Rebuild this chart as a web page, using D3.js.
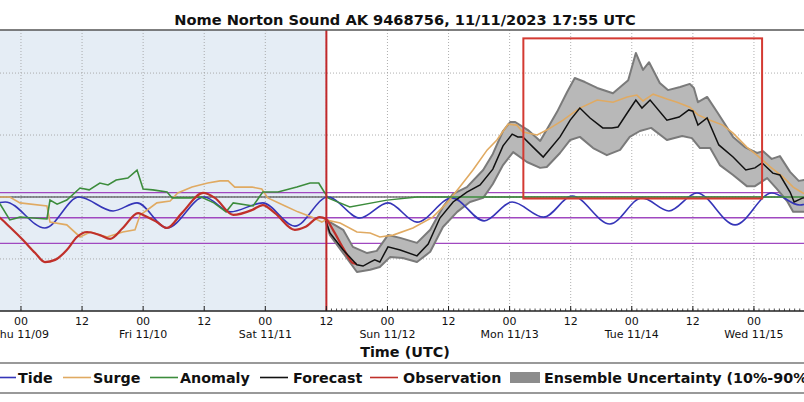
<!DOCTYPE html>
<html><head><meta charset="utf-8">
<script src="https://cdn.jsdelivr.net/npm/d3@7"></script>
<style>body{margin:0;background:#fff}svg{display:block}text{font-family:"DejaVu Sans",sans-serif}</style>
</head><body><svg id="c" width="804" height="402"></svg>
<script>
const title = "Nome Norton Sound AK 9468756, 11/11/2023 17:55 UTC";
const xTitle = "Time (UTC)";
// time in hours since 2023-11-09 00:00 UTC, level in ft
const tide = [[-6.1,-0.26],[-3.1,-0.16],[4.7,-1.0],[11.4,0.0],[18.1,-0.45],[22.8,-0.19],[28.7,-1.0],[36.0,0.0],[41.1,-0.48],[47.5,-0.19],[53.8,-0.94],[60.3,0.0],[66.6,-0.68],[72.1,-0.19],[77.8,-0.81],[84.7,-0.03],[91.0,-0.77],[96.5,-0.16],[102.7,-0.65],[108.3,0.03],[115.7,-0.87],[122.0,-0.03],[127.3,-0.45],[132.8,0.13],[140.3,-0.9],[147.5,0.13],[153.0,-0.26],[157.0,0.03]];
const observation = [[-6.1,-0.48],[-4.1,-0.68],[-2.2,-0.97],[0.4,-1.39],[2.8,-1.81],[4.7,-2.10],[6.7,-2.03],[9.0,-1.71],[11.0,-1.29],[13.0,-1.13],[15.5,-1.23],[17.5,-1.35],[20.0,-1.0],[23.0,-0.52],[24.0,-0.58],[26.7,-0.81],[28.7,-1.0],[31.6,-0.52],[35.8,0.13],[38.1,-0.03],[41.7,-0.58],[45.4,-0.42],[47.5,-0.26],[49.9,-0.52],[53.8,-1.06],[55.8,-0.97],[58.7,-0.65],[59.9,-0.71],[61.3,-1.06],[63.3,-1.65],[65.2,-2.13],[65.9,-2.16]];
const surge = [[-6.1,0.0],[-2.2,0.0],[-0.2,-0.19],[5.1,-0.29],[5.7,-0.81],[9.0,-0.9],[11.6,-1.29],[13.6,-1.13],[16.9,-1.29],[20.0,-1.13],[22.4,-1.06],[23.4,-0.58],[24.8,-0.42],[26.7,-0.19],[29.3,-0.13],[30.8,0.13],[33.6,0.32],[36.7,0.45],[39.1,0.52],[40.7,0.52],[42.0,0.32],[45.4,0.32],[47.3,0.26],[48.5,-0.03],[51.9,-0.29],[54.4,-0.48],[57.2,-0.65],[59.1,-0.81],[59.9,-0.74],[62.7,-0.84],[66.0,-1.13],[68.6,-1.16],[70.5,-1.29],[73.1,-1.23],[77.0,-1.0],[80.9,-0.65],[83.7,-0.19],[86.2,0.32],[88.8,0.87],[91.6,1.52],[93.5,1.84],[95.7,2.35],[97.4,2.32],[98.6,2.10],[101.4,2.0],[103.3,2.16],[106.5,2.48],[108.4,2.71],[109.8,2.87],[113.2,3.13],[116.3,3.06],[119.1,3.23],[121.0,3.29],[122.2,3.10],[124.2,3.32],[126.9,3.16],[128.9,3.06],[131.4,2.90],[133.0,2.65],[135.4,2.48],[137.9,2.32],[139.9,2.06],[142.6,1.61],[144.6,1.35],[147.2,0.97],[149.7,0.65],[151.7,0.32],[153.6,0.13],[156.0,-0.03]];
const anomalyObs = [[-6.1,-0.03],[-4.1,-0.23],[-2.2,-0.74],[-0.2,-0.65],[2.4,-0.68],[5.1,-0.71],[5.7,-0.10],[7.1,-0.23],[9.0,-0.10],[11.6,0.29],[13.4,0.23],[15.5,0.45],[17.1,0.39],[18.7,0.55],[21.0,0.61],[22.8,0.87],[24.0,0.26],[25.9,0.23],[28.7,0.16],[29.7,-0.03],[33.2,-0.03],[35.4,0.0],[37.9,-0.19],[40.3,-0.48],[41.7,-0.19],[45.6,-0.29],[47.5,0.16],[50.5,0.16],[54.2,0.32],[56.8,0.45],[58.5,0.45],[59.7,0.13]];
const anomalyFcst = [[59.7,0.13],[60.3,-0.03],[64.6,-0.32],[71.9,-0.10],[77.8,0.0],[159,0.0]];
const forecast = [[59.9,-0.77],[60.7,-1.16],[63.3,-1.71],[66.0,-2.19],[67.2,-2.23],[68.6,-2.10],[69.5,-2.03],[70.5,-2.10],[72.1,-1.61],[74.5,-1.71],[77.8,-1.90],[80.0,-1.52],[82.3,-0.68],[84.9,-0.16],[87.6,0.16],[90.2,0.39],[92.7,0.90],[94.7,1.65],[96.5,2.03],[97.6,1.94],[98.6,1.94],[100.6,1.61],[102.6,1.29],[105.9,1.94],[107.9,2.48],[109.8,2.87],[111.8,2.55],[114.3,2.23],[116.1,2.23],[117.3,2.26],[119.1,2.71],[120.8,3.13],[122.0,2.87],[123.6,3.13],[126.9,2.48],[129.3,2.58],[131.2,2.81],[132.0,2.77],[133.0,2.32],[134.8,2.55],[137.1,1.68],[139.9,1.29],[142.4,0.87],[144.2,0.94],[145.6,1.10],[147.7,0.77],[149.1,0.71],[151.1,0.16],[151.9,-0.16],[153.6,-0.03],[156.0,0.03]];
const ensUpper = [[59.9,-0.71],[60.7,-0.81],[63.3,-1.06],[65.2,-1.61],[68.0,-1.81],[69.9,-1.74],[72.1,-1.23],[74.5,-1.32],[77.8,-1.48],[80.4,-1.06],[82.9,-0.32],[84.9,0.10],[87.6,0.32],[90.8,0.87],[92.7,1.39],[94.7,2.13],[96.1,2.42],[97.1,2.42],[99.6,2.16],[102.0,1.81],[105.3,2.74],[107.3,3.39],[108.8,3.84],[110.8,3.71],[113.2,3.52],[116.3,3.35],[119.3,3.77],[120.8,4.65],[122.2,4.10],[123.4,4.35],[125.5,3.68],[127.1,3.45],[129.5,3.55],[131.4,3.65],[132.2,3.52],[133.0,3.06],[134.8,3.23],[136.9,2.71],[139.9,1.94],[142.2,1.61],[144.6,1.42],[145.8,1.48],[147.5,1.23],[149.1,1.32],[151.1,0.81],[152.8,0.52],[154.0,0.55],[156.0,0.35]];
const ensLower = [[59.9,-0.81],[60.7,-1.23],[63.3,-1.81],[66.0,-2.42],[68.6,-2.35],[70.5,-2.26],[72.5,-1.94],[75.0,-1.97],[77.8,-2.10],[80.4,-1.77],[82.9,-0.97],[85.7,-0.48],[88.2,-0.16],[90.8,-0.03],[92.7,0.42],[94.7,1.03],[96.7,1.45],[99.4,1.13],[102.0,0.94],[103.3,0.97],[105.9,1.42],[107.9,1.84],[109.8,1.94],[112.4,1.58],[115.1,1.35],[117.7,1.52],[119.6,1.94],[121.6,2.13],[123.8,2.23],[126.9,1.84],[129.9,1.97],[131.8,1.90],[133.4,1.58],[135.4,1.58],[137.3,1.03],[139.9,0.71],[142.6,0.35],[144.2,0.35],[146.6,0.61],[148.5,0.26],[150.5,-0.13],[151.7,-0.48],[153.6,-0.48],[156.0,-0.42]];
const thresholds = [0.14, -0.67, -1.50];
const forecastStart = 60;          // 11/11 12Z
const boxTimes = [98.7, 145.6];
const boxLevels = [-0.05, 5.12];
const tickTimes = [0,12,24,36,48,60,72,84,96,108,120,132,144];
const hourLabels = ["00","12","00","12","00","12","00","12","00","12","00","12","00"];
const dayLabels = ["Thu 11/09","","Fri 11/10","","Sat 11/11","","Sun 11/12","","Mon 11/13","","Tue 11/14","","Wed 11/15"];
const gridLevels = [-2,0,2,4];
const legendItems = [
  {label:"Tide", color:"#3535b8", kind:"line"},
  {label:"Surge", color:"#e0aa62", kind:"line"},
  {label:"Anomaly", color:"#3c8c3c", kind:"line"},
  {label:"Forecast", color:"#111", kind:"line"},
  {label:"Observation", color:"#c0302a", kind:"line"},
  {label:"Ensemble Uncertainty (10%-90%)", color:"#8c8c8c", kind:"patch"}
];

(function(){
const svg = d3.select("#c");
const pTop = 30, pBot = 311;
const x = d3.scaleLinear().domain([-12,168]).range([-40.1,876.1]);
const y = d3.scaleLinear().domain([-3.68,5.39]).range([pBot,pTop]);
const line = d3.line().x(d=>x(d[0])).y(d=>y(d[1]));
const smooth = d3.line().x(d=>x(d[0])).y(d=>y(d[1])).curve(d3.curveMonotoneX);

svg.append("rect").attr("x",x(-12)).attr("y",pTop).attr("width",x(forecastStart)-x(-12)).attr("height",pBot-pTop).attr("fill","#e5edf5");

svg.append("g").selectAll("line").data(tickTimes).join("line")
  .attr("x1",d=>x(d)).attr("x2",d=>x(d)).attr("y1",pTop).attr("y2",pBot)
  .attr("stroke","#9a9a9a").attr("stroke-width",0.8).attr("stroke-dasharray","1,2");
svg.append("g").selectAll("line").data(gridLevels).join("line")
  .attr("x1",0).attr("x2",804).attr("y1",d=>y(d)).attr("y2",d=>y(d))
  .attr("stroke","#9a9a9a").attr("stroke-width",0.8).attr("stroke-dasharray","1,2");
svg.append("line").attr("x1",0).attr("x2",804).attr("y1",y(0)).attr("y2",y(0)).attr("stroke","#333").attr("stroke-width",1.2);
svg.append("g").selectAll("line").data(thresholds).join("line")
  .attr("x1",0).attr("x2",804).attr("y1",d=>y(d)).attr("y2",d=>y(d))
  .attr("stroke","#a048c0").attr("stroke-width",1.3);

const band = ensUpper.concat(ensLower.slice().reverse());
svg.append("path").attr("d",line(band)+"Z").attr("fill","#b8b8b8").attr("stroke","#7a7a7a").attr("stroke-width",2).attr("stroke-linejoin","round");

svg.append("path").attr("d",smooth(tide)).attr("fill","none").attr("stroke",legendItems[0].color).attr("stroke-width",1.6);
svg.append("path").attr("d",line(surge)).attr("fill","none").attr("stroke",legendItems[1].color).attr("stroke-width",1.6);
svg.append("path").attr("d",line(anomalyObs)).attr("fill","none").attr("stroke",legendItems[2].color).attr("stroke-width",1.6);
svg.append("path").attr("d",line(anomalyFcst)).attr("fill","none").attr("stroke",legendItems[2].color).attr("stroke-width",1.4);
svg.append("path").attr("d",smooth(observation)).attr("fill","none").attr("stroke",legendItems[4].color).attr("stroke-width",2.2);
svg.append("path").attr("d",line(forecast)).attr("fill","none").attr("stroke",legendItems[3].color).attr("stroke-width",1.5);

svg.append("line").attr("x1",x(forecastStart)).attr("x2",x(forecastStart)).attr("y1",pTop).attr("y2",pBot).attr("stroke","#c0282a").attr("stroke-width",2);
svg.append("rect").attr("x",x(boxTimes[0])).attr("y",y(boxLevels[1])).attr("width",x(boxTimes[1])-x(boxTimes[0])).attr("height",y(boxLevels[0])-y(boxLevels[1]))
  .attr("fill","none").attr("stroke","#d43a32").attr("stroke-width",2);

svg.append("line").attr("x1",0).attr("x2",804).attr("y1",pTop).attr("y2",pTop).attr("stroke","#555").attr("stroke-width",1.5);
svg.append("line").attr("x1",0).attr("x2",804).attr("y1",pBot).attr("y2",pBot).attr("stroke","#222").attr("stroke-width",1.5);

const minor = d3.range(forecastStart, 169, 1);
svg.append("g").selectAll("line").data(minor).join("line")
  .attr("x1",d=>x(d)).attr("x2",d=>x(d)).attr("y1",pBot).attr("y2",pBot-2.5).attr("stroke","#222").attr("stroke-width",0.8);
svg.append("g").selectAll("line").data(tickTimes).join("line")
  .attr("x1",d=>x(d)).attr("x2",d=>x(d)).attr("y1",pBot).attr("y2",pBot-5).attr("stroke","#222").attr("stroke-width",1);
const tl = svg.append("g").attr("font-size",11).attr("fill","#111").attr("text-anchor","middle");
tl.selectAll("text.h").data(tickTimes).join("text").attr("class","h").attr("x",d=>x(d)).attr("y",324.5).text((d,i)=>hourLabels[i]);
tl.selectAll("text.d").data(tickTimes).join("text").attr("class","d").attr("x",d=>x(d)).attr("y",337.5).text((d,i)=>dayLabels[i]);

svg.append("text").attr("x",405).attr("y",24.5).attr("text-anchor","middle").attr("font-size",14.6).attr("font-weight","bold").attr("fill","#111").text(title);
svg.append("text").attr("x",405).attr("y",357).attr("text-anchor","middle").attr("font-size",14.4).attr("font-weight","bold").attr("fill","#111").text(xTitle);

svg.append("line").attr("x1",0).attr("x2",804).attr("y1",363).attr("y2",363).attr("stroke","#777").attr("stroke-width",1.5);
svg.append("line").attr("x1",0).attr("x2",804).attr("y1",393).attr("y2",393).attr("stroke","#777").attr("stroke-width",1.5);
// legend layout (handle start, text start)
const handleX = [-12, 63, 150, 260, 370, 510];
const textX = [18, 93, 180, 293, 403, 544];
const lg = svg.append("g");
legendItems.forEach((it,i)=>{
  if(it.kind==="line"){
    lg.append("line").attr("x1",handleX[i]).attr("x2",handleX[i]+28).attr("y1",377.5).attr("y2",377.5).attr("stroke",it.color).attr("stroke-width",1.6);
  } else {
    lg.append("rect").attr("x",handleX[i]).attr("y",372).attr("width",30).attr("height",11).attr("fill",it.color);
  }
  lg.append("text").attr("x",textX[i]).attr("y",383).attr("font-size",14.3).attr("font-weight","bold").attr("fill","#111").text(it.label);
});
})();
</script></body></html>
